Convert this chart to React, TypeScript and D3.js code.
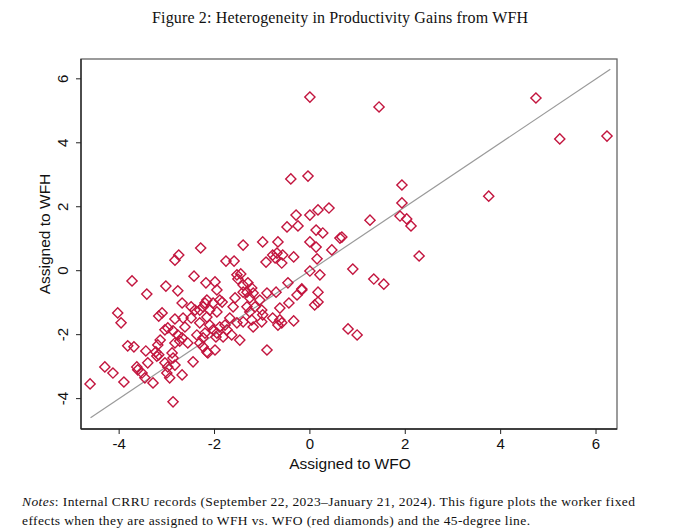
import { useMemo } from "react";
import * as d3 from "d3";

// ── Data ─────────────────────────────────────────────────────────────

// worker fixed effects when assigned to WFO (x) and WFH (y)
const wfo = [
  0.0, 1.45, 4.74, 5.24, 6.23, 3.75, -0.04, -0.4, 1.93, 1.93,
  0.4, 0.17, 0.0, -0.29, 1.89, 2.03, 2.12, 1.26, -0.48, -0.25,
  0.13, 0.27, 0.63, 0.67, 0.0, 0.13, 0.46, 0.15, 2.29, 0.9,
  0.0, 0.21, 1.34, 1.55, -0.17, 0.17, 0.17, 0.1, 0.8, 0.99,
  -2.29, -1.4, -0.99, -0.67, -2.75, -2.83, -1.76, -1.59, -0.92, -0.78,
  -0.69, -0.57, -0.34, -0.59, -0.73, -3.73, -2.43, -3.42, -3.02, -2.77,
  -2.18, -1.99, -1.95, -1.53, -1.45, -1.51, -1.4, -1.3, -1.22, -1.19,
  -1.32, -1.4, -1.26, -1.57, -0.9, -0.71, -0.46, -0.27, -0.17, -4.03,
  -3.96, -3.17, -3.1, -2.68, -2.49, -2.41, -2.2, -2.16, -2.03, -1.89,
  -1.84, -2.24, -2.1, -1.95, -2.16, -2.31, -1.61, -1.32, -1.15, -1.05,
  -1.26, -1.01, -0.99, -0.63, -0.44, -1.68, -1.78, -1.53, -1.4, -1.22,
  -1.19, -1.01, -0.78, -0.63, -0.59, -0.67, -0.34, -2.31, -2.1, -2.83,
  -2.66, -2.49, -2.98, -2.62, -3.04, -2.87, -2.77, -2.68, -2.56, -2.83,
  -2.73, -2.37, -2.2, -2.24, -2.16, -2.89, -2.87, -1.47, -1.64, -1.74,
  -1.89, -1.95, -1.82, -2.03, -2.24, -2.31, -2.14, -1.99, -1.97, -0.9,
  -3.82, -3.69, -3.44, -3.19, -3.23, -3.17, -3.14, -3.4, -4.3, -4.13,
  -3.63, -3.61, -3.52, -3.46, -3.29, -4.61, -3.9, -3.04, -2.98, -3.0,
  -2.83, -2.68, -2.94, -2.45, -2.87, -3.21,
];

const wfh = [
  5.43, 5.12, 5.4, 4.12, 4.21, 2.33, 2.96, 2.87, 2.68, 2.12,
  1.96, 1.9, 1.74, 1.74, 1.71, 1.62, 1.4, 1.58, 1.37, 1.4,
  1.27, 1.18, 1.02, 1.05, 0.9, 0.74, 0.65, 0.37, 0.46, 0.05,
  -0.01, -0.13, -0.26, -0.42, -0.57, -0.67, -0.98, -1.07, -1.82, -2.01,
  0.71, 0.8, 0.9, 0.9, 0.49, 0.33, 0.3, 0.3, 0.27, 0.49,
  0.55, 0.49, 0.43, 0.24, 0.4, -0.32, -0.17, -0.73, -0.48, -0.63,
  -0.38, -0.35, -0.6, -0.13, -0.1, -0.26, -0.45, -0.38, -0.54, -0.7,
  -0.67, -0.67, -0.85, -0.85, -0.7, -0.67, -0.38, -0.76, -0.6, -1.32,
  -1.63, -1.42, -1.32, -1.01, -1.13, -1.23, -1.01, -0.92, -1.01, -0.92,
  -0.98, -1.13, -1.23, -1.29, -1.45, -1.23, -1.13, -1.13, -1.13, -0.92,
  -1.29, -1.23, -1.38, -1.17, -1.01, -1.48, -1.7, -1.63, -1.6, -1.54,
  -1.76, -1.6, -1.48, -1.54, -1.63, -1.7, -1.57, -1.63, -1.7, -1.51,
  -1.48, -1.48, -1.79, -1.76, -1.85, -1.88, -2.01, -2.1, -2.26, -2.26,
  -2.2, -2.01, -1.95, -2.38, -2.54, -2.57, -2.73, -2.17, -2.01, -1.85,
  -1.76, -1.95, -2.07, -1.85, -2.1, -2.26, -2.57, -2.48, -2.07, -2.48,
  -2.35, -2.38, -2.51, -2.32, -2.54, -2.63, -2.17, -2.88, -3.01, -3.2,
  -3.01, -3.1, -3.2, -3.35, -3.51, -3.54, -3.48, -2.88, -3.01, -3.2,
  -2.95, -3.26, -3.35, -2.85, -4.1, -2.67,
];

const xTicks = [-4, -2, 0, 2, 4, 6];
const yTicks = [-4, -2, 0, 2, 4, 6];
const lineEnds = [-4.6, 6.3];

const title = "Figure 2: Heterogeneity in Productivity Gains from WFH";
const xLabel = "Assigned to WFO";
const yLabel = "Assigned to WFH";
const note1 =
  ": Internal CRRU records (September 22, 2023\u2013January 21, 2024).  This figure plots the worker fixed";
const note2 =
  "effects when they are assigned to WFH vs. WFO (red diamonds) and the 45-degree line.";

// ── Layout ───────────────────────────────────────────────────────────

const W = 680;
const H = 532;
const PLOT = { left: 81, right: 617, top: 59, bottom: 429 };
const RED = "#c3163f";
const SANS = "'Liberation Sans', Arial, sans-serif";
const SERIF = "'Liberation Serif', 'Times New Roman', serif";

export default function App() {
  const x = useMemo(
    () => d3.scaleLinear().domain([-4.8, 6.44]).range([PLOT.left, PLOT.right]),
    [],
  );
  const y = useMemo(
    () => d3.scaleLinear().domain([-4.95, 6.62]).range([PLOT.bottom, PLOT.top]),
    [],
  );

  const diamond = d3.symbol().type(d3.symbolSquare).size(52)();
  const points = wfo.map((v, i) => [v, wfh[i]] as [number, number]);
  const diag = d3
    .line<number>()
    .x((d) => x(d))
    .y((d) => y(d))(lineEnds);

  return (
    <div style={{ position: "absolute", left: 0, top: 0 }}>
      <svg width={W} height={H} style={{ display: "block", background: "#fff" }}>
        <text
          x={152}
          y={23}
          textLength={376}
          lengthAdjust="spacing"
          fontFamily={SERIF}
          fontSize={16}
          fill="#111"
        >
          {title}
        </text>

        {/* plot frame */}
        <rect
          x={PLOT.left}
          y={PLOT.top}
          width={PLOT.right - PLOT.left}
          height={PLOT.bottom - PLOT.top}
          fill="#fff"
          stroke="#666"
          strokeWidth={1.3}
        />
        <line x1={PLOT.left} x2={PLOT.left} y1={PLOT.top} y2={PLOT.bottom} stroke="#222" strokeWidth={1.3} />
        <line x1={PLOT.left} x2={PLOT.right} y1={PLOT.bottom} y2={PLOT.bottom} stroke="#222" strokeWidth={1.3} />

        {/* 45-degree line */}
        <path d={diag ?? ""} fill="none" stroke="#9a9a9a" strokeWidth={1.2} />

        {/* diamonds */}
        {points.map(([a, b], i) => (
          <path
            key={i}
            d={diamond}
            transform={`translate(${x(a)},${y(b)}) rotate(45)`}
            fill="none"
            stroke={RED}
            strokeWidth={1.4}
          />
        ))}

        {/* x axis */}
        {xTicks.map((t) => (
          <g key={t} transform={`translate(${x(t)},${PLOT.bottom})`}>
            <line y1={0} y2={5} stroke="#222" strokeWidth={1} />
            <text
              y={20}
              textAnchor="middle"
              fontFamily={SANS}
              fontSize={15}
              fill="#111"
            >
              {t}
            </text>
          </g>
        ))}
        <text
          x={350}
          y={469}
          textAnchor="middle"
          fontFamily={SANS}
          fontSize={15.5}
          fill="#111"
        >
          {xLabel}
        </text>

        {/* y axis */}
        {yTicks.map((t) => (
          <g key={t} transform={`translate(${PLOT.left},${y(t)})`}>
            <line x1={0} x2={-5} stroke="#222" strokeWidth={1} />
            <text
              transform="translate(-13,0) rotate(-90)"
              textAnchor="middle"
              fontFamily={SANS}
              fontSize={15}
              fill="#111"
            >
              {t}
            </text>
          </g>
        ))}
        <text
          transform="translate(50,234) rotate(-90)"
          textAnchor="middle"
          fontFamily={SANS}
          fontSize={15.5}
          fill="#111"
        >
          {yLabel}
        </text>

        {/* notes */}
        <text
          x={22}
          y={506}
          textLength={613}
          lengthAdjust="spacing"
          fontFamily={SERIF}
          fontSize={13.5}
          fill="#111"
        >
          <tspan fontStyle="italic">Notes</tspan>
          {note1}
        </text>
        <text
          x={22}
          y={525}
          textLength={508}
          lengthAdjust="spacing"
          fontFamily={SERIF}
          fontSize={13.5}
          fill="#111"
        >
          {note2}
        </text>
      </svg>
    </div>
  );
}
